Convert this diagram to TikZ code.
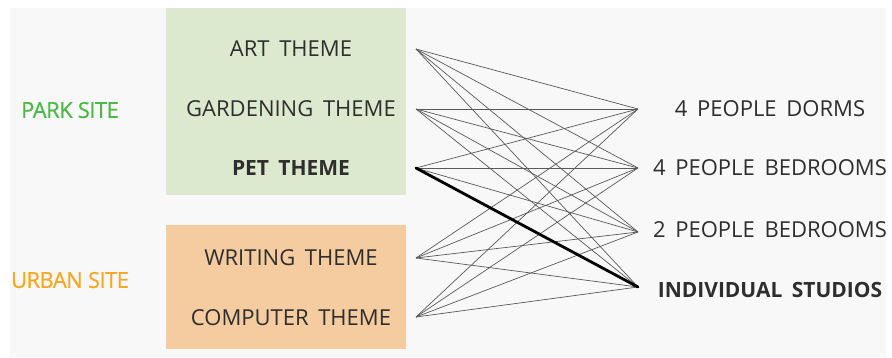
\documentclass[tikz,border=0pt]{standalone}
\usepackage{fontspec}
\setmainfont[WordSpace=1.7]{Open Sans}
\newfontfamily\sitefont[LetterSpace=-2.5, FakeBold=0.6]{Open Sans}
\definecolor{bgcol}{HTML}{F8F8F8}
\definecolor{parkbox}{HTML}{DCE9CE}
\definecolor{urbanbox}{HTML}{F5CBA0}
\definecolor{parktext}{HTML}{4DB848}
\definecolor{urbantext}{HTML}{F7A823}
\definecolor{ink}{HTML}{2E2E2E}
\begin{document}
\begin{tikzpicture}[x=1pt,y=-1pt,
  label/.style={font=\fontsize{22}{26}\selectfont, text=ink, inner sep=0pt, anchor=center},
  boldlabel/.style={label, font=\fontsize{21}{25}\selectfont\bfseries},
  site/.style={font=\sitefont\fontsize{22}{26}\selectfont, inner sep=0pt, anchor=center},
  link/.style={draw=black!65, line width=0.7pt},
  strong/.style={draw=black, line width=2.8pt},
  dot/.style={inner sep=0pt, minimum size=0pt}]
\useasboundingbox (0,0) rectangle (892,358);
% backdrop and the two site panels
\fill[bgcol] (10,8) rectangle (886,357);
\fill[parkbox] (166,8) rectangle (406,195);
\fill[urbanbox] (166,225) rectangle (406,349);

% site names
\node[site, text=parktext] (park) at (70,110) {PARK SITE};
\node[site, text=urbantext] (urban) at (70,280) {URBAN SITE};

% themes
\node[label] (art) at (291,49) {ART THEME};
\node[label] (garden) at (291,109) {GARDENING THEME};
\node[boldlabel] (pet) at (291,168) {PET THEME};
\node[label] (writing) at (291,258) {WRITING THEME};
\node[label] (computer) at (291,318) {COMPUTER THEME};

% housing types
\node[label] (dorms) at (770,109) {4 PEOPLE DORMS};
\node[label] (bed4) at (770,168) {4 PEOPLE BEDROOMS};
\node[label] (bed2) at (770,230) {2 PEOPLE BEDROOMS};
\node[boldlabel] (studios) at (770,290) {INDIVIDUAL STUDIOS};

% connector ends
\node[dot] (La) at (416,49) {};
\node[dot] (Lg) at (416,109) {};
\node[dot] (Lp) at (416,168) {};
\node[dot] (Lw) at (416,258) {};
\node[dot] (Lc) at (416,317) {};
\node[dot] (Rd) at (638,109) {};
\node[dot] (Rb) at (638,168) {};
\node[dot] (Rt) at (638,232) {};
\node[dot] (Ri) at (638,287) {};

% every theme to every housing type
\foreach \l in {La,Lg,Lp,Lw,Lc}
  \foreach \r in {Rd,Rb,Rt,Ri}
    \draw[link] (\l.center) -- (\r.center);
\draw[strong, line cap=round] (Lp.center) -- (Ri.center);
\end{tikzpicture}
\end{document}
